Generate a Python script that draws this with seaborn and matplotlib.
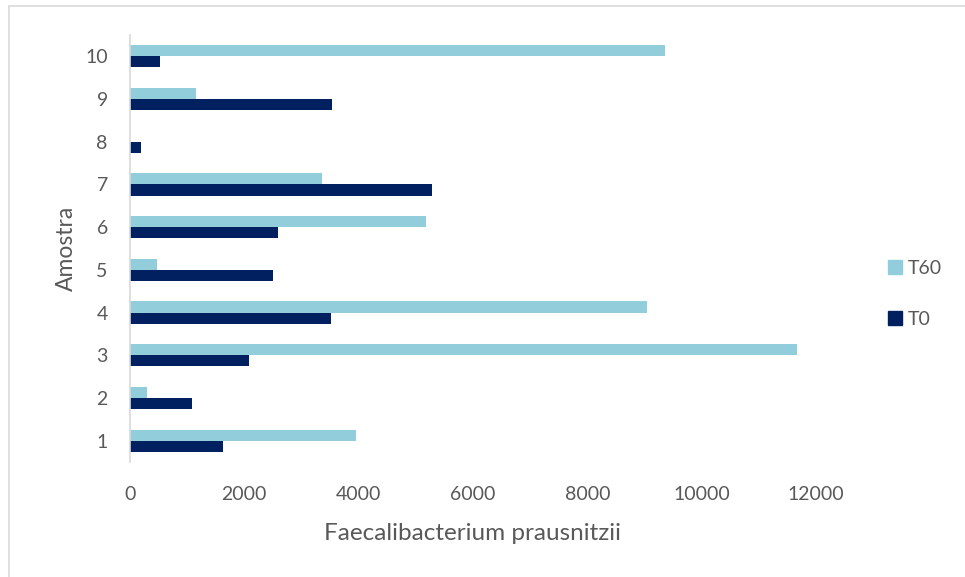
import matplotlib
matplotlib.use("Agg")
import matplotlib.pyplot as plt
from matplotlib.patches import Rectangle
import seaborn as sns
import pandas as pd

# Sample labels (top to bottom) and Faecalibacterium prausnitzii counts per time point
amostras = ["10", "9", "8", "7", "6", "5", "4", "3", "2", "1"]
t60 = [9350, 1160, 0, 3360, 5185, 480, 9050, 11660, 300, 3945]
t0 = [520, 3525, 185, 5290, 2590, 2500, 3515, 2090, 1090, 1635]
series = ["T60", "T0"]
colors = ["#92CDDC", "#002060"]
xticks = [0, 2000, 4000, 6000, 8000, 10000, 12000]

df = pd.DataFrame({
    "Amostra": amostras * 2,
    "valor": t60 + t0,
    "serie": ["T60"] * len(amostras) + ["T0"] * len(amostras),
})

sns.set_theme(style="white")
plt.rcParams["font.family"] = ["Lato", "DejaVu Sans"]

fig = plt.figure(figsize=(9.65, 5.77), dpi=100)
ax = fig.add_axes([0.1347, 0.1993, 0.7109, 0.7400])

sns.barplot(
    data=df, x="valor", y="Amostra", hue="serie",
    order=amostras, hue_order=series, palette=colors,
    orient="h", width=0.52, gap=0, linewidth=0, saturation=1,
    ax=ax, legend=True,
)

ax.set_xlim(0, 12000)
ax.set_xticks(xticks)
ax.set_xticklabels([str(v) for v in xticks])
ax.set_ylim(len(amostras) - 0.5, -0.5)

for side in ["top", "right", "bottom"]:
    ax.spines[side].set_visible(False)
ax.spines["left"].set_color("#D9D9D9")
ax.spines["left"].set_linewidth(1.2)

ax.tick_params(axis="both", length=0, labelsize=14, labelcolor="#595959")
ax.tick_params(axis="x", pad=17)
ax.tick_params(axis="y", pad=16)

ax.set_xlabel("Faecalibacterium prausnitzii", fontsize=17.5, color="#595959", labelpad=15)
ax.set_ylabel("Amostra", fontsize=16.5, color="#595959", labelpad=6)

ax.get_legend().remove()
handles = [Rectangle((0, 0), 1, 1, color=c) for c in colors]
fig.legend(
    handles, series, loc="center left", bbox_to_anchor=(0.902, 0.491),
    frameon=False, handlelength=0.7, handleheight=0.7, handletextpad=0.3,
    labelspacing=1.75, fontsize=14, labelcolor="#595959",
)

# light chart-area frame
fig.patches.append(Rectangle((9 / 965, -0.05), 1.1, 1 - 6 / 577 + 0.05,
                             transform=fig.transFigure, fill=False,
                             edgecolor="#D9D9D9", linewidth=1.2))

fig.savefig("out.png", dpi=100)
